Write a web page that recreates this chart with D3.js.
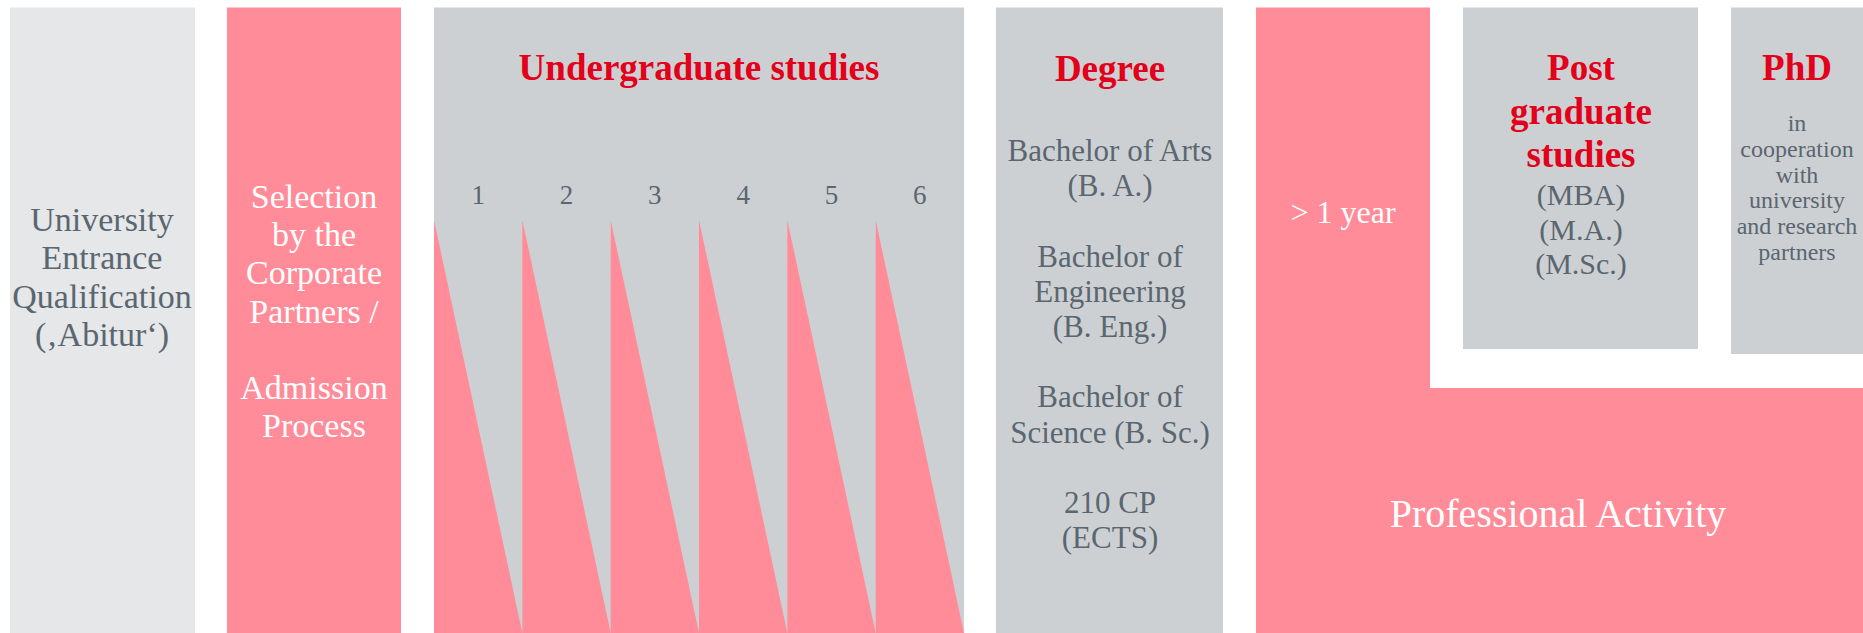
<!DOCTYPE html>
<html>
<head>
<meta charset="utf-8">
<script src="https://cdn.jsdelivr.net/npm/d3@7"></script>
<style>
html, body { margin: 0; padding: 0; background: #fff; }
svg { display: block; }
text { font-family: "Liberation Serif", "Times New Roman", serif; }
</style>
</head>
<body>
<svg></svg>
<script>
const width = 1863;
const height = 633;
const top_ = 7.5;

const pink = '#ff8c98';
const grey = '#cdd0d3';
const lightGrey = '#e6e7e8';
const red = '#e2001a';
const textGrey = '#5a6670';

// data
const semesters = [1, 2, 3, 4, 5, 6];
const entranceLines = ['University', 'Entrance', 'Qualification', '(\u201aAbitur\u2018)'];
const selectionLines = ['Selection', 'by the', 'Corporate', 'Partners /', '', 'Admission', 'Process'];
const undergradTitle = 'Undergraduate studies';
const degreeTitle = 'Degree';
const degreeLines = ['Bachelor of Arts', '(B. A.)', '', 'Bachelor of', 'Engineering', '(B. Eng.)', '', 'Bachelor of', 'Science (B. Sc.)', '', '210 CP', '(ECTS)'];
const yearLabel = '> 1 year';
const professionalLabel = 'Professional Activity';
const postTitle = ['Post', 'graduate', 'studies'];
const postLines = ['(MBA)', '(M.A.)', '(M.Sc.)'];
const phdTitle = 'PhD';
const phdLines = ['in', 'cooperation', 'with', 'university', 'and research', 'partners'];

var svg = d3.select('svg').attr('width', width).attr('height', height);

function box(x0, x1, y0, y1, fill){
	svg.append('rect')
	.attr('x', x0).attr('y', y0)
	.attr('width', x1 - x0).attr('height', y1 - y0)
	.style('fill', fill);
}

// centred block of lines, first line centre at y
function lines(arr, cx, y, size, lh, color, weight){
	var t = svg.append('text')
	.attr('text-anchor', 'middle')
	.attr('dominant-baseline', 'central')
	.style('font-size', size + 'px')
	.style('font-weight', weight || 'normal')
	.style('fill', color);
	arr.forEach((d, i) => {
		t.append('tspan').attr('x', cx).attr('y', y + i*lh).text(d);
	});
}

// boxes
box(10, 195, top_, height, lightGrey);
box(227, 401, top_, height, pink);
box(434, 964, top_, height, grey);
box(996, 1223, top_, height, grey);
box(1463, 1698, top_, 349, grey);
box(1731, width, top_, 354, grey);

// L shaped professional activity block
svg.append('path')
.attr('d', 'M1256,' + top_ + 'H1430V388H' + width + 'V' + height + 'H1256Z')
.style('fill', pink);

// semester triangles
var x = d3.scaleBand().domain(semesters).range([434, 964]).paddingInner(0);
var y = d3.scaleLinear().domain([0, 1]).range([220, height]);

svg.selectAll('path.sem')
.data(semesters)
.enter().append('path').classed('sem', true)
.attr('d', d => 'M' + x(d) + ',' + y(0) + 'L' + (x(d) + x.bandwidth()) + ',' + y(1) + 'L' + x(d) + ',' + y(1) + 'Z')
.style('fill', pink);

svg.selectAll('text.sem')
.data(semesters)
.enter().append('text').classed('sem', true)
.attr('x', d => x(d) + x.bandwidth()/2)
.attr('y', 195)
.attr('text-anchor', 'middle')
.attr('dominant-baseline', 'central')
.style('font-size', '27px')
.style('fill', textGrey)
.text(d => d);

// texts
lines(entranceLines, 102, 219, 34, 38.4, textGrey);
lines(selectionLines, 314, 196, 34, 38.2, '#fff');
lines([undergradTitle], 699, 67, 37, 40, red, 'bold');
lines([degreeTitle], 1110, 68, 37, 40, red, 'bold');
lines(degreeLines, 1110, 150, 31, 35.2, textGrey);
lines([yearLabel], 1343, 212, 32, 36, '#fff');
lines([professionalLabel], 1558, 513, 40, 44, '#fff');
lines(postTitle, 1581, 67, 37, 43.5, red, 'bold');
lines(postLines, 1581, 194, 30, 34.6, textGrey);
lines([phdTitle], 1797, 67, 37, 40, red, 'bold');
lines(phdLines, 1797, 123, 24, 25.8, textGrey);
</script>
</body>
</html>
